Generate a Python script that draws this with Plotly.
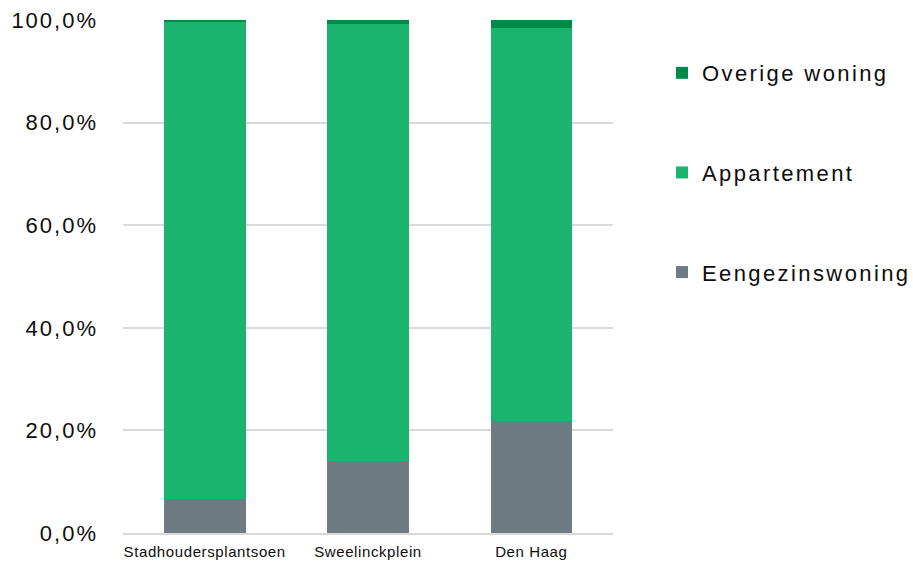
import plotly.graph_objects as go

categories = ["Stadhoudersplantsoen", "Sweelinckplein", "Den Haag"]
eengezinswoning = [6.6, 14.0, 21.8]
appartement = [93.0, 85.2, 76.6]
overige_woning = [0.4, 0.8, 1.6]

series = [
    ("Eengezinswoning", eengezinswoning, "#6F7B83", 3),
    ("Appartement", appartement, "#1AB46E", 2),
    ("Overige woning", overige_woning, "#008A47", 1),
]

fig = go.Figure()
for name, vals, col, rank in series:
    fig.add_trace(go.Bar(
        x=categories, y=vals, name=name, legendgroup=name, legendrank=rank,
        marker=dict(color=col, line=dict(width=0)),
        width=0.5,
    ))

fig.update_layout(
    barmode="stack",
    width=913, height=561,
    margin=dict(l=123, r=300, t=20, b=28, autoexpand=False),
    paper_bgcolor="white", plot_bgcolor="white",
    separators=",.",
    font=dict(family="Liberation Sans, Arial, sans-serif", color="#0d0d0d"),
    legend=dict(
        traceorder="grouped",
        tracegroupgap=68,
        x=1.1, xanchor="left",
        y=0.9375, yanchor="top",
        font=dict(size=22, color="#0d0d0d"),
        bgcolor="rgba(0,0,0,0)",
    ),
    xaxis=dict(
        showgrid=False,
        showline=True, linecolor="#D9D9D9", linewidth=1.5,
        ticks="",
        tickfont=dict(size=15, color="#0d0d0d"),
        ticklabelstandoff=4,
        automargin=False,
    ),
    yaxis=dict(
        range=[0, 100],
        dtick=20,
        tickformat=".1f", ticksuffix="%",
        showgrid=True, gridcolor="#D9D9D9", gridwidth=1.5,
        zeroline=False,
        showline=False,
        ticks="",
        tickfont=dict(size=22, color="#0d0d0d"),
        ticklabelstandoff=24,
        automargin=False,
    ),
)

css = (
    "html,body{margin:0;padding:0;}"
    ".legendtext{letter-spacing:2.4px;}"
    "g.ytick text{letter-spacing:2px;}"
    "g.xtick text{letter-spacing:0.6px;}"
    ".legend .scrollbox{clip-path:none !important;}"
    ".legend{clip-path:none !important;}"
)
post = ("var s=document.createElement('style');s.textContent='" + css +
        "';document.head.appendChild(s);")

fig.write_html("out.html", post_script=post, config={"displayModeBar": False})
